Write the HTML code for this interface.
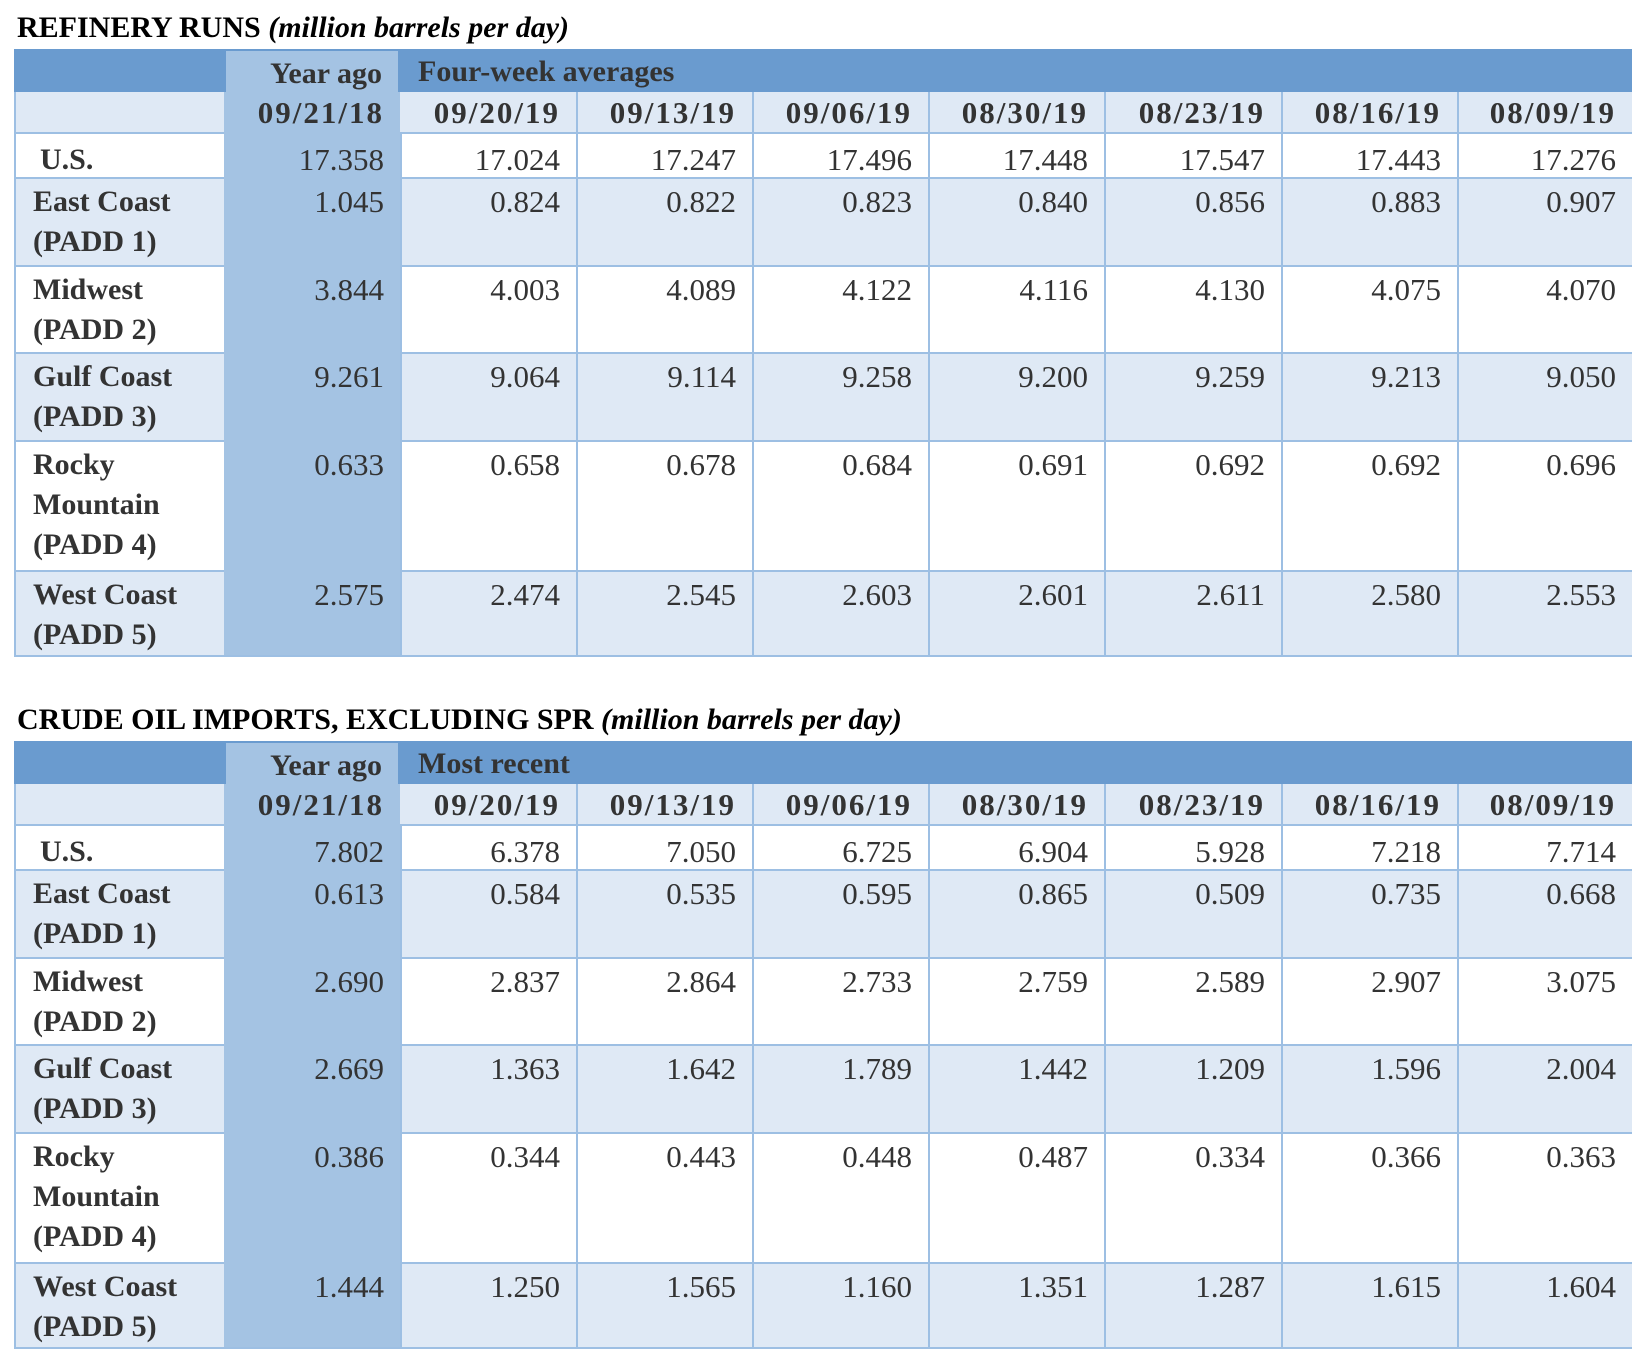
<!DOCTYPE html>
<html><head><meta charset="utf-8"><style>
body{margin:0;width:1632px;height:1362px;background:#fff;position:relative;overflow:hidden;font-family:"Liberation Serif",serif;color:#333}
.t{position:absolute;font-weight:bold;font-size:30px;color:#000;left:17px;white-space:nowrap}
.c{position:absolute;box-sizing:border-box;font-size:30px;line-height:40px;white-space:nowrap}
.n{text-align:right;padding-right:16px}
.b{font-weight:bold}
</style></head><body>
<div id="root"></div>
<script>
const cols=[14,224,400,576,752,928,1104,1281,1457,1632];
const dates=["09/21/18","09/20/19","09/13/19","09/06/19","08/30/19","08/23/19","08/16/19","08/09/19"];
const regions=[["U.S."],["East Coast","(PADD 1)"],["Midwest","(PADD 2)"],["Gulf Coast","(PADD 3)"],["Rocky","Mountain","(PADD 4)"],["West Coast","(PADD 5)"]];
const runs=[["17.358","17.024","17.247","17.496","17.448","17.547","17.443","17.276"],
["1.045","0.824","0.822","0.823","0.840","0.856","0.883","0.907"],
["3.844","4.003","4.089","4.122","4.116","4.130","4.075","4.070"],
["9.261","9.064","9.114","9.258","9.200","9.259","9.213","9.050"],
["0.633","0.658","0.678","0.684","0.691","0.692","0.692","0.696"],
["2.575","2.474","2.545","2.603","2.601","2.611","2.580","2.553"]];
const imports=[["7.802","6.378","7.050","6.725","6.904","5.928","7.218","7.714"],
["0.613","0.584","0.535","0.595","0.865","0.509","0.735","0.668"],
["2.690","2.837","2.864","2.733","2.759","2.589","2.907","3.075"],
["2.669","1.363","1.642","1.789","1.442","1.209","1.596","2.004"],
["0.386","0.344","0.443","0.448","0.487","0.334","0.366","0.363"],
["1.444","1.250","1.565","1.160","1.351","1.287","1.615","1.604"]];
const root=document.getElementById('root');
function box(x,y,w,h,bg,cls,html,name){
  const d=document.createElement('div');
  d.className=cls||'c';
  d.style.cssText=`left:${x}px;top:${y}px;width:${w}px;height:${h}px;background:${bg||'transparent'}`;
  if(html!=null)d.innerHTML=html;
  
  
  root.appendChild(d);return d;
}
function table(top,titleA,titleB,hdr,data,rows,prefix){
  const t=document.createElement('div');t.className='t';t.style.top=(top-38)+'px';
  t.innerHTML=titleA+' <i>'+titleB+'</i>';
  
  
  root.appendChild(t);
  const L=cols[0],R=cols[9];
  // header band
  box(L,top,R-L,43,'#6a9bcf','c',null,prefix+'-header-band');
  box(cols[1]+2,top+2,cols[2]-cols[1]-4,41,'#a4c3e3','c b n','<div style="padding-top:3px">Year ago</div>',prefix+'-year-ago-header');
  box(cols[2]+2,top,cols[9]-cols[2],43,'transparent','c b','<div style="padding:3px 0 0 16px">'+hdr+'</div>',prefix+'-group-header');
  let y=top+43;
  const heights=[40,45,88,87,88,130,87];
  // date row
  box(L,y,R-L,heights[0],'#dfe9f5','c',null,prefix+'-date-row');
  for(let i=0;i<8;i++){
    const bg=i==0?'#a4c3e3':'transparent';
    const c=box(cols[i+1],y,cols[i+2]-cols[i+1],heights[0],bg,'c b n','<div style="letter-spacing:2px;font-size:31px;padding-top:1px">'+dates[i]+'</div>',prefix+'-date-'+i);
    if(i>1)c.style.borderLeft='2px solid #9dbfe3';
  }
  y+=heights[0];
  for(let r=0;r<rows.length;r++){
    const h=heights[r+1];
    const bg=r%2==0?'#ffffff':'#dfe9f5';
    box(L,y,R-L,h,bg,'c',null,prefix+'-row-bg-'+r);
    box(L,y,R-L,2,'#9dbfe3','c',null,prefix+'-row-line-'+r);
    const lab=box(L,y,cols[1]-L,h,'transparent','c b','<div style="padding:'+(r==0?8:5)+'px 0 0 '+(r==0?26:19)+'px">'+rows[r].join('<br>')+'</div>',prefix+'-label-'+r);
    for(let i=0;i<8;i++){
      const cb=i==0?'#a4c3e3':'transparent';
      const c=box(cols[i+1],y,cols[i+2]-cols[i+1],h,cb,'c n','<div style="padding-top:'+(r==0?8:5)+'px;font-size:31px">'+data[r][i]+'</div>',prefix+'-value-'+r+'-'+i);
      if(i>0)c.style.borderLeft='2px solid #9dbfe3';
    }
    y+=h;
  }
  box(L,y-2,R-L,2,'#9dbfe3','c',null,prefix+'-bottom-line');
  box(L,top+43,2,y-top-43,'#9dbfe3','c',null,prefix+'-left-line');
}
table(49,'REFINERY RUNS','(million barrels per day)','Four-week averages',runs,regions,'refinery-runs');
table(741,'CRUDE OIL IMPORTS, EXCLUDING SPR','(million barrels per day)','Most recent',imports,regions,'crude-imports');
</script>
</body></html>
